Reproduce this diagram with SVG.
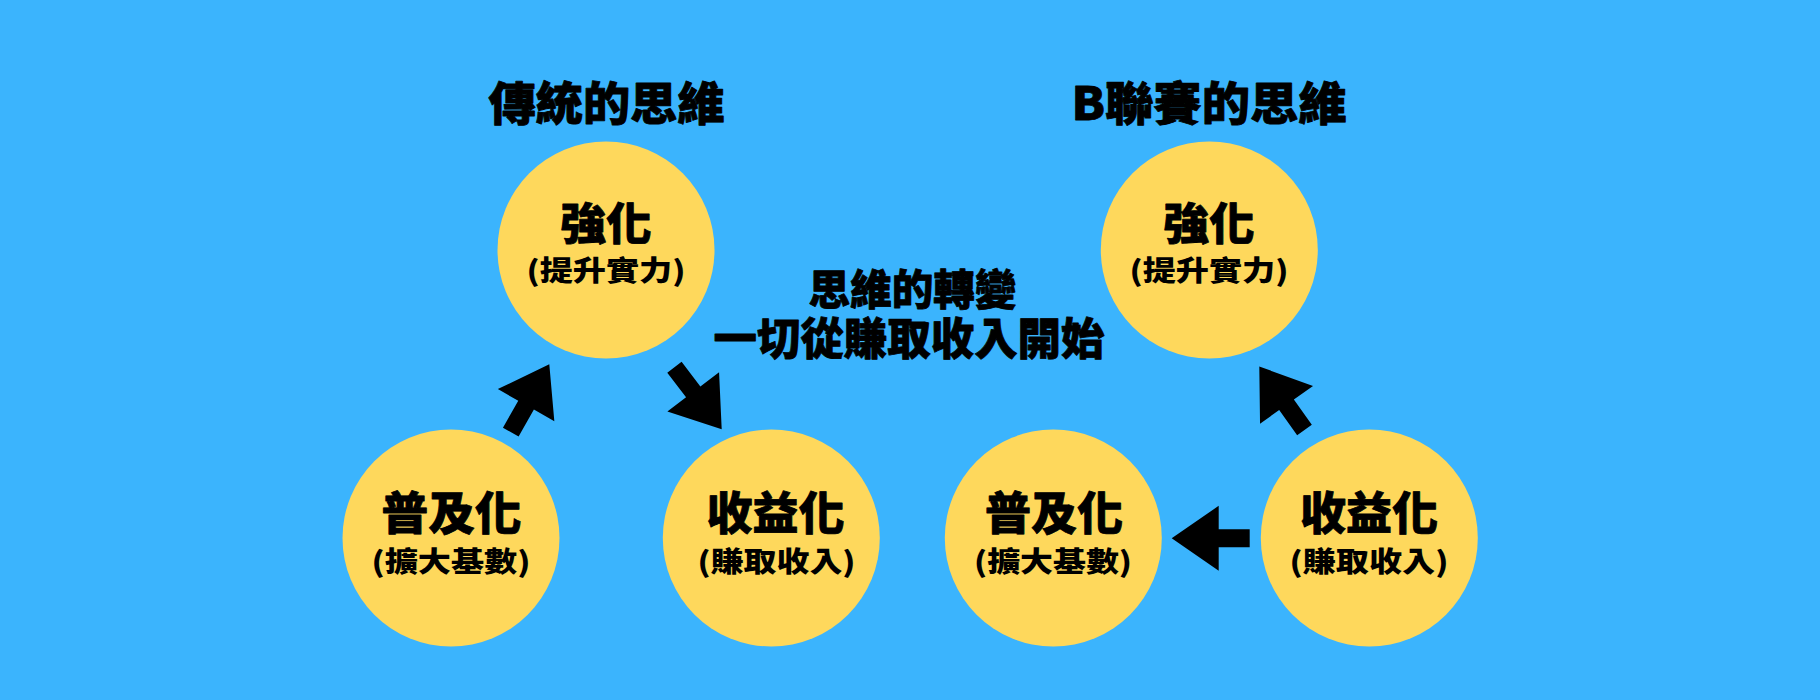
<svg xmlns="http://www.w3.org/2000/svg" xmlns:xlink="http://www.w3.org/1999/xlink" width="1820" height="700" viewBox="0 0 1820 700">
<style>
.bg{fill:#3BB4FD}
.node{fill:#FED85C}
.t{font-family:"Noto Sans CJK TC","Noto Sans CJK SC",sans-serif;font-weight:900;fill:#000;text-anchor:middle}
.big{stroke:#000;stroke-width:0.8;stroke-linejoin:round}
.arrow{fill:#000}
</style>
<defs>
<path id="arr" d="M0,0 L-47,-32.5 L-47,-9 L-78,-9 L-78,9 L-47,9 L-47,32.5 Z"/>
</defs>
<rect class="bg" x="0" y="0" width="1820" height="700"/>

<g id="title-left">
<text class="t big" x="606.5" y="120" font-size="46" textLength="236" lengthAdjust="spacingAndGlyphs">傳統的思維</text>
</g>
<g id="title-right">
<text class="t big" x="1209" y="120" font-size="46" textLength="275" lengthAdjust="spacingAndGlyphs">B聯賽的思維</text>
</g>

<g id="center-label">
<text class="t big" x="912.5" y="305" font-size="42" textLength="208" lengthAdjust="spacingAndGlyphs">思維的轉變</text>
<text class="t big" x="909" y="355" font-size="44" textLength="391" lengthAdjust="spacingAndGlyphs">一切從賺取收入開始</text>
</g>

<g id="left-strengthen">
<circle class="node" cx="606" cy="250" r="108.5"/>
<text class="t big" x="606" y="240" font-size="44" textLength="91" lengthAdjust="spacingAndGlyphs">強化</text>
<text class="t" x="606" y="281" font-size="28" textLength="159" lengthAdjust="spacingAndGlyphs">(提升實力)</text>
</g>

<g id="left-popularize">
<circle class="node" cx="451" cy="538" r="108.5"/>
<text class="t big" x="451.5" y="529.5" font-size="45" textLength="140" lengthAdjust="spacingAndGlyphs">普及化</text>
<text class="t" x="451" y="571.5" font-size="28" textLength="159" lengthAdjust="spacingAndGlyphs">(擴大基數)</text>
</g>

<g id="left-monetize">
<circle class="node" cx="771.3" cy="538" r="108.5"/>
<text class="t big" x="775.5" y="529.5" font-size="45" textLength="138" lengthAdjust="spacingAndGlyphs">收益化</text>
<text class="t" x="776.5" y="571.5" font-size="28" textLength="158" lengthAdjust="spacingAndGlyphs">(賺取收入)</text>
</g>

<g id="right-strengthen">
<circle class="node" cx="1209.3" cy="250" r="108.5"/>
<text class="t big" x="1209" y="240" font-size="44" textLength="91" lengthAdjust="spacingAndGlyphs">強化</text>
<text class="t" x="1209" y="281" font-size="28" textLength="159" lengthAdjust="spacingAndGlyphs">(提升實力)</text>
</g>

<g id="right-popularize">
<circle class="node" cx="1053.3" cy="538" r="108.5"/>
<text class="t big" x="1054" y="529.5" font-size="45" textLength="138" lengthAdjust="spacingAndGlyphs">普及化</text>
<text class="t" x="1053" y="571.5" font-size="28" textLength="158" lengthAdjust="spacingAndGlyphs">(擴大基數)</text>
</g>

<g id="right-monetize">
<circle class="node" cx="1369.3" cy="538" r="108.5"/>
<text class="t big" x="1369" y="529.5" font-size="45" textLength="138" lengthAdjust="spacingAndGlyphs">收益化</text>
<text class="t" x="1369" y="571.5" font-size="28" textLength="159" lengthAdjust="spacingAndGlyphs">(賺取收入)</text>
</g>

<g id="connectors" class="arrow">
<use xlink:href="#arr" href="#arr" transform="translate(549.3,364.3) rotate(-60.4)"/>
<use xlink:href="#arr" href="#arr" transform="translate(721.7,429.3) rotate(52.7)"/>
<use xlink:href="#arr" href="#arr" transform="translate(1171.7,538.3) rotate(180)"/>
<use xlink:href="#arr" href="#arr" transform="translate(1259.3,366.5) rotate(-125.4)"/>
</g>
</svg>
